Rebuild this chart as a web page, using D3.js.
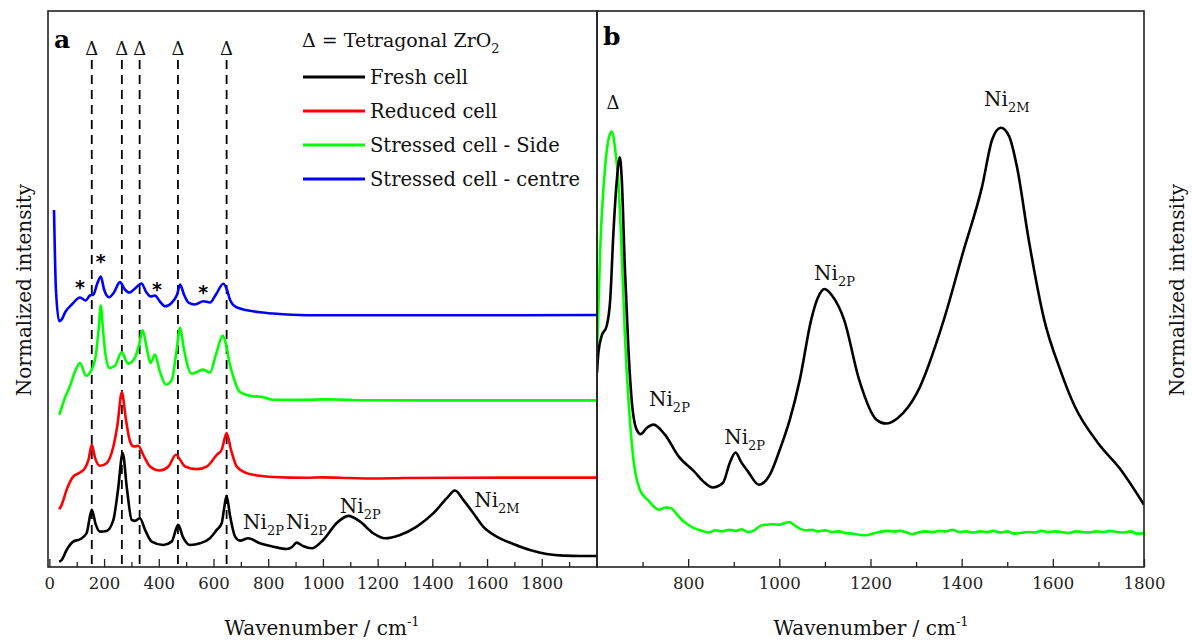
<!DOCTYPE html>
<html>
<head>
<meta charset="utf-8">
<script src="https://cdn.jsdelivr.net/npm/d3@7"></script>
<style>
  html, body { margin: 0; padding: 0; background: #fff; }
  svg { display: block; font-family: "DejaVu Serif", serif; }
</style>
</head>
<body>
<svg id="chart" width="1192" height="640"></svg>
<script>
// ---------------- DATA ----------------
// Panel a: Raman spectra [wavenumber (cm-1), normalized intensity incl. offset]
const freshA = [[36,0.95],[45,1.26],[63,3.06],[87,4.56],[112,4.99],[136,6.07],[155,10.27],[170,7.57],[185,6.36],[209,6.49],[234,8.47],[251,13.9],[268,20.5],[284,13.9],[301,8.47],[313,8.29],[331,8.77],[350,6.67],[374,4.56],[416,3.96],[447,4.56],[471,7.57],[488,5.41],[514,3.96],[551,4.27],[587,5.17],[612,6.67],[630,7.87],[638,10.27],[648,12.79],[660,9.37],[679,5.46],[697,4.74],[727,5.17],[770,4.27],[819,3.66],[868,3.24],[887,3.6],[904,4.38],[927,3.78],[959,3.37],[1001,4.86],[1050,7.87],[1093,9.19],[1136,8.16],[1184,6.07],[1227,5.17],[1282,5.77],[1343,7.26],[1404,9.68],[1453,12.38],[1483,13.75],[1513,12.07],[1550,9.68],[1586,7.26],[1635,5.46],[1696,4.14],[1757,3.06],[1818,2.34],[1879,2.04],[1940,1.98],[2002,1.98]];
const reducedA = [[36,10.4],[45,11.17],[63,13.87],[87,16.27],[112,16.99],[130,17.78],[143,19.28],[155,21.98],[167,19.64],[185,18.2],[209,18.68],[234,21.68],[249,25.59],[265,31.4],[280,26.49],[295,22.58],[309,21.68],[325,21.8],[343,20.18],[368,18.07],[404,17.35],[435,18.07],[463,20.18],[478,19.28],[496,18.07],[539,17.6],[575,18.07],[612,20.18],[630,21.08],[648,24.09],[664,21.08],[685,18.07],[721,16.88],[770,16.4],[818,16.2],[942,16.05],[1000,16.12],[1100,16.0],[1183,15.92],[1300,16.0],[1501,16.06],[2002,16.08]];
const sideA = [[36,27.39],[45,28.65],[57,30.45],[75,32.49],[94,35.19],[112,36.7],[134,34.41],[155,35.5],[170,38.2],[180,42.7],[188,47.03],[196,42.7],[203,39.1],[219,35.8],[240,36.2],[264,38.6],[288,36.58],[313,37.66],[328,40.0],[341,42.58],[357,39.1],[370,36.7],[386,38.2],[404,35.14],[426,32.79],[448,33.7],[463,38.2],[478,43.0],[492,39.1],[520,34.77],[563,35.5],[587,34.95],[609,38.2],[634,41.62],[646,40.0],[660,36.4],[672,34.29],[690,31.9],[697,31.44],[744,30.72],[777,30.6],[818,30.09],[942,30.05],[1000,30.15],[1062,30.1],[1183,29.98],[1501,29.96],[2002,29.96]];
const centreA = [[17,64.2],[24,49.9],[36,44.2],[45,44.5],[57,45.77],[82,47.21],[112,48.47],[133,47.93],[148,48.83],[161,49.01],[174,50.81],[188,52.25],[200,49.91],[218,48.52],[236,49.37],[258,51.23],[276,49.91],[292,49.37],[309,49.91],[337,50.99],[353,49.55],[371,48.65],[386,48.83],[404,47.75],[423,46.9],[448,47.57],[467,49.01],[478,50.81],[492,49.01],[508,47.57],[532,47.21],[563,47.8],[587,47.57],[609,49.01],[636,50.94],[649,49.91],[660,48.11],[671,47.21],[697,46.49],[744,46.0],[770,45.82],[818,45.59],[942,45.28],[1501,45.28],[2002,45.32]];

// Panel b: expanded region
const freshB = [[600,34.9],[603,38.5],[610,41.5],[621,43.3],[629,48.1],[636,60.1],[643,69.1],[650,73.7],[654,70.3],[661,54.1],[669,39.1],[676,30.1],[687,24.7],[696,23.9],[709,25.0],[724,25.6],[749,23.8],[779,19.9],[813,17.2],[833,15.4],[854,14.3],[876,15.1],[892,18.9],[904,20.6],[916,18.9],[931,17.2],[955,14.8],[981,16.9],[1001,21.1],[1023,26.5],[1045,33.7],[1070,44.5],[1085,48.5],[1099,50.0],[1116,48.8],[1142,44.5],[1175,33.7],[1213,26.5],[1234,25.8],[1260,26.8],[1302,31.3],[1361,44.5],[1403,56.6],[1445,68.5],[1467,76.9],[1486,79.0],[1504,77.5],[1521,72.1],[1547,58.9],[1581,44.5],[1616,35.5],[1648,28.9],[1699,22.3],[1749,17.5],[1800,11.2]];
const sideB = [[600,38.0],[607,57.1],[618,72.1],[627,77.5],[633,78.3],[639,75.7],[647,69.1],[654,57.1],[661,42.1],[669,30.1],[680,19.3],[694,13.9],[711,12.1],[736,10.3],[750,10.7],[762,10.6],[774,9.6],[786,8.5],[800,7.6],[813,7.0],[830,6.5],[845,6.2],[860,6.6],[875,6.4],[890,6.7],[905,6.5],[918,6.8],[930,6.3],[945,6.6],[958,7.4],[970,7.6],[985,7.7],[1000,7.6],[1012,7.9],[1022,8.1],[1032,7.6],[1045,6.9],[1058,6.6],[1072,6.7],[1085,6.4],[1100,6.6],[1115,6.3],[1130,6.4],[1145,6.1],[1160,6.0],[1175,5.8],[1190,5.7],[1205,6.0],[1220,6.3],[1235,6.5],[1250,6.4],[1265,6.5],[1280,6.2],[1292,5.9],[1305,6.2],[1320,6.4],[1335,6.3],[1350,6.5],[1365,6.4],[1380,6.7],[1395,6.3],[1410,6.4],[1425,6.2],[1440,6.4],[1455,6.3],[1470,6.5],[1485,6.2],[1500,6.4],[1515,6.0],[1530,6.1],[1545,6.3],[1560,6.2],[1575,6.5],[1590,6.3],[1605,6.4],[1620,6.3],[1635,6.1],[1650,6.4],[1665,6.3],[1680,6.2],[1695,6.4],[1710,6.3],[1725,6.5],[1740,6.3],[1755,6.2],[1770,6.4],[1785,6.0],[1800,6.1]];

const seriesNames = ["Fresh cell", "Reduced cell", "Stressed cell - Side", "Stressed cell - centre"];
const seriesColors = ["#000000", "#ff0000", "#00ff00", "#0000ff"];

const zrO2Peaks = [155, 265, 330, 470, 648];           // tetragonal ZrO2 bands (dashed lines)
const starMarks = [[112, 51.0], [188, 55.7], [393, 50.8], [562, 50.1]]; // '*' positions
const niLabelsA = [[708, 6.85, "2P"], [865, 6.85, "2P"], [1062, 9.7, "2P"], [1553, 10.8, "2M"]];
const niLabelsB = [[714, 29.0, "2P"], [879, 22.2, "2P"], [1076, 51.7, "2P"], [1449, 82.9, "2M"]];
const deltaLabelB = [635, 82.3];

const ticksA = [0, 200, 400, 600, 800, 1000, 1200, 1400, 1600, 1800];
const minorA = [100, 300, 500, 700, 900, 1100, 1300, 1500, 1700, 1900];
const ticksB = [800, 1000, 1200, 1400, 1600, 1800];
const minorB = [700, 900, 1100, 1300, 1500, 1700];

// ---------------- LAYOUT ----------------
const svg = d3.select("#chart");
const plotTop = 11, plotBottom = 567;
const aL = 48, aR = 597, bL = 597, bR = 1144;

const y = d3.scaleLinear().domain([0, 100]).range([plotBottom, plotTop]);
const xA = d3.scaleLinear().domain([-5, 2002]).range([aL, aR]);
const xB = d3.scaleLinear().domain([600, 1800]).range([bL, bR]);

const defs = svg.append("defs");
defs.append("clipPath").attr("id", "clipA").append("rect")
  .attr("x", aL).attr("y", plotTop).attr("width", aR - aL).attr("height", plotBottom - plotTop);
defs.append("clipPath").attr("id", "clipB").append("rect")
  .attr("x", bL).attr("y", plotTop).attr("width", bR - bL).attr("height", plotBottom - plotTop);

// ---------------- AXES ----------------
function drawAxis(x, major, minor) {
  const gMaj = svg.append("g").attr("transform", `translate(0,${plotBottom})`)
    .call(d3.axisBottom(x).tickValues(major).tickSizeInner(-8).tickSizeOuter(0).tickPadding(10).tickFormat(d3.format("d")));
  gMaj.select(".domain").remove();
  gMaj.selectAll("line").attr("stroke", "#222").attr("stroke-width", 1.3);
  gMaj.selectAll("text").attr("font-family", "DejaVu Serif").attr("font-size", 16.5).attr("fill", "#222");
  const gMin = svg.append("g").attr("transform", `translate(0,${plotBottom})`)
    .call(d3.axisBottom(x).tickValues(minor).tickSizeInner(-5).tickSizeOuter(0).tickFormat(""));
  gMin.select(".domain").remove();
  gMin.selectAll("line").attr("stroke", "#222").attr("stroke-width", 1.3);
}
drawAxis(xA, ticksA, minorA);
drawAxis(xB, ticksB, minorB);

// ---------------- PANEL A ----------------
const lineA = d3.line().x(d => xA(d[0])).y(d => y(d[1])).curve(d3.curveMonotoneX);
const lineB = d3.line().x(d => xB(d[0])).y(d => y(d[1])).curve(d3.curveMonotoneX);

svg.append("g").selectAll("line").data(zrO2Peaks).join("line")
  .attr("x1", d => xA(d)).attr("x2", d => xA(d))
  .attr("y1", 60).attr("y2", plotBottom)
  .attr("stroke", "#000").attr("stroke-width", 1.8).attr("stroke-dasharray", "9,6");
svg.append("g").selectAll("text").data(zrO2Peaks).join("text")
  .attr("x", d => xA(d)).attr("y", 55).attr("text-anchor", "middle")
  .attr("font-size", 18).attr("fill", "#111").text("Δ");

const gA = svg.append("g").attr("clip-path", "url(#clipA)");
const seriesA = [freshA, reducedA, sideA, centreA];
seriesA.forEach((s, i) => {
  gA.append("path").datum(s).attr("d", lineA)
    .attr("fill", "none").attr("stroke", seriesColors[i]).attr("stroke-width", 2.6)
    .attr("stroke-linejoin", "round");
});

svg.append("g").selectAll("text").data(starMarks).join("text")
  .attr("x", d => xA(d[0])).attr("y", d => y(d[1]) + 11)
  .attr("text-anchor", "middle").attr("font-size", 19).attr("font-weight", "bold")
  .attr("font-family", "DejaVu Sans").text("*");

function niLabel(x, d) {
  const t = svg.append("text").attr("x", x(d[0])).attr("y", y(d[1]))
    .attr("font-size", 20).attr("fill", "#111");
  t.append("tspan").text("Ni");
  t.append("tspan").attr("font-size", 13).attr("dy", 6).text(d[2]);
}
niLabelsA.forEach(d => niLabel(xA, d));

svg.append("text").attr("x", 54).attr("y", 48).attr("font-size", 25).attr("font-weight", "bold").text("a");

const leg = svg.append("text").attr("x", 302).attr("y", 47).attr("font-size", 19).attr("fill", "#111");
leg.append("tspan").text("Δ = Tetragonal ZrO");
leg.append("tspan").attr("font-size", 13).attr("dy", 6).text("2");
const legY = [77, 111, 145, 179];
seriesNames.forEach((n, i) => {
  svg.append("line").attr("x1", 303).attr("x2", 365).attr("y1", legY[i]).attr("y2", legY[i])
    .attr("stroke", seriesColors[i]).attr("stroke-width", 3);
  svg.append("text").attr("x", 370).attr("y", legY[i]).attr("dy", "0.35em")
    .attr("font-size", 19.5).attr("fill", "#111").text(n);
});

// ---------------- PANEL B ----------------
const gB = svg.append("g").attr("clip-path", "url(#clipB)");
gB.append("path").datum(sideB).attr("d", lineB)
  .attr("fill", "none").attr("stroke", seriesColors[2]).attr("stroke-width", 2.6).attr("stroke-linejoin", "round");
gB.append("path").datum(freshB).attr("d", lineB)
  .attr("fill", "none").attr("stroke", seriesColors[0]).attr("stroke-width", 2.6).attr("stroke-linejoin", "round");

niLabelsB.forEach(d => niLabel(xB, d));
svg.append("text").attr("x", xB(deltaLabelB[0])).attr("y", y(deltaLabelB[1]))
  .attr("text-anchor", "middle").attr("font-size", 18).attr("fill", "#111").text("Δ");
svg.append("text").attr("x", 603).attr("y", 45).attr("font-size", 25).attr("font-weight", "bold").text("b");

// ---------------- FRAMES ----------------
svg.append("rect").attr("x", aL).attr("y", plotTop).attr("width", aR - aL).attr("height", plotBottom - plotTop)
  .attr("fill", "none").attr("stroke", "#222").attr("stroke-width", 1.6);
svg.append("rect").attr("x", bL).attr("y", plotTop).attr("width", bR - bL).attr("height", plotBottom - plotTop)
  .attr("fill", "none").attr("stroke", "#222").attr("stroke-width", 1.6);

// ---------------- AXIS TITLES ----------------
function xTitle(cx) {
  const t = svg.append("text").attr("x", cx).attr("y", 635).attr("text-anchor", "middle")
    .attr("font-size", 20).attr("fill", "#111");
  t.append("tspan").text("Wavenumber / cm");
  t.append("tspan").attr("font-size", 13).attr("dy", -9).text("-1");
}
xTitle(322);
xTitle(871);
svg.append("text").attr("transform", "translate(31,290) rotate(-90)").attr("text-anchor", "middle")
  .attr("font-size", 20).attr("fill", "#111").text("Normalized intensity");
svg.append("text").attr("transform", "translate(1184,290) rotate(-90)").attr("text-anchor", "middle")
  .attr("font-size", 20).attr("fill", "#111").text("Normalized intensity");
</script>
</body>
</html>
